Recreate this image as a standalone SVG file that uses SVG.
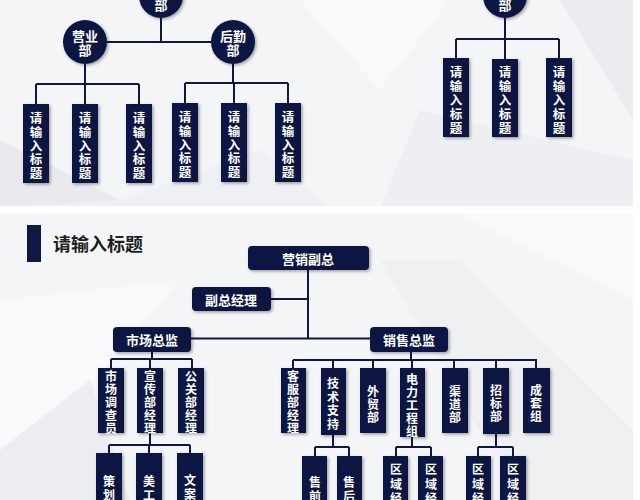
<svg xmlns="http://www.w3.org/2000/svg" width="640" height="500" viewBox="0 0 640 500">
<defs>
<filter id="sh" x="-30%" y="-30%" width="160%" height="160%">
<feDropShadow dx="1.5" dy="1.5" stdDeviation="1.5" flood-color="#000" flood-opacity="0.35"/>
</filter>
<style>
.n{fill:#111743;filter:url(#sh);}
.t{fill:#ffffff;font-family:"Noto Sans CJK SC","Noto Sans",sans-serif;font-size:13px;font-weight:bold;text-anchor:middle;dominant-baseline:central;}
.v{fill:#ffffff;font-family:"Noto Sans CJK SC","Noto Sans",sans-serif;font-size:12.5px;font-weight:bold;text-anchor:middle;dominant-baseline:central;}
.s{fill:#ffffff;font-family:"Noto Sans CJK SC","Noto Sans",sans-serif;font-size:12px;font-weight:bold;text-anchor:middle;dominant-baseline:central;}
.c{fill:none;stroke:#111743;stroke-width:2;}
.h{fill:#1e1e1e;font-family:"Noto Sans CJK SC","Noto Sans",sans-serif;font-size:18px;font-weight:bold;dominant-baseline:central;}
</style>
</defs>
<!-- background -->
<rect x="0" y="0" width="640" height="500" fill="#f4f5f7"/>
<polygon points="0,140 120,200 0,210" fill="#e6e7eb" opacity="0.8"/>
<polygon points="120,200 260,150 330,208 0,208" fill="#eceef1" opacity="0.7"/>
<polygon points="300,0 450,0 380,90" fill="#fafafb" opacity="0.9"/>
<polygon points="560,0 633,0 633,120" fill="#e9eaee" opacity="0.8"/>
<polygon points="420,110 633,160 633,208 380,208" fill="#ebecef" opacity="0.7"/>
<rect x="0" y="206" width="640" height="8" fill="#ffffff"/>
<polygon points="0,300 180,280 60,420 0,450" fill="#fafafb" opacity="0.9"/>
<polygon points="0,450 90,380 130,500 0,500" fill="#e8e9ed" opacity="0.7"/>
<polygon points="380,260 460,260 633,430 633,500 520,500" fill="#ebecef" opacity="0.6"/>
<polygon points="460,215 633,215 633,300" fill="#fafafb" opacity="0.9"/>
<rect x="633" y="0" width="7" height="500" fill="#ffffff"/>

<!-- connectors -->
<g id="connectors" class="c">
<path d="M161 18V42M107 42H211"/>
<path d="M85 64V84M36 84H139M36 84V104M85 84V104M139 84V104"/>
<path d="M233 64V83M185 83H288M185 83V103M234 83V103M288 83V103"/>
<path d="M505 18V39M456 39H559M456 39V58M505 39V59M559 39V58"/>
<path d="M308 270V338M271 299H308M191 338.5H370"/>
<path d="M152 352V359M111 359H192M111 359V368M150 359V368M192 359V368"/>
<path d="M150 433V445M109 445H190M109 445V453M149 445V453M190 445V453"/>
<path d="M411 352V360M293 360H537M293 360V368M333 360V368M373 360V368M412 360V368M454 360V368M496 360V368M536 360V368"/>
<path d="M333 435V447M315 447H349M315 447V456M349 447V456"/>
<path d="M412 437V447M396 447H431M396 447V456M431 447V456"/>
<path d="M496 434V447M478 447H513M478 447V456M513 447V456"/>
</g>

<!-- top-left -->
<g id="top-circle"><circle class="n" cx="161" cy="-4" r="22"/><text class="t" x="161" y="4">部</text></g>
<g id="yingye"><circle class="n" cx="85" cy="42" r="22"/><text class="t" x="85" y="35">营业</text><text class="t" x="85" y="49">部</text></g>
<g id="houqin"><circle class="n" cx="233" cy="42" r="22"/><text class="t" x="233" y="35">后勤</text><text class="t" x="233" y="49">部</text></g>
<g id="tl1"><rect class="n" x="23" y="104" width="26" height="79"/><text class="v" x="36" y="117"><tspan x="36">请</tspan><tspan x="36" dy="13.8">输</tspan><tspan x="36" dy="13.8">入</tspan><tspan x="36" dy="13.8">标</tspan><tspan x="36" dy="13.8">题</tspan></text></g>
<g id="tl2"><rect class="n" x="72" y="104" width="26" height="79"/><text class="v" x="85" y="117"><tspan x="85">请</tspan><tspan x="85" dy="13.8">输</tspan><tspan x="85" dy="13.8">入</tspan><tspan x="85" dy="13.8">标</tspan><tspan x="85" dy="13.8">题</tspan></text></g>
<g id="tl3"><rect class="n" x="126" y="104" width="26" height="79"/><text class="v" x="139" y="117"><tspan x="139">请</tspan><tspan x="139" dy="13.8">输</tspan><tspan x="139" dy="13.8">入</tspan><tspan x="139" dy="13.8">标</tspan><tspan x="139" dy="13.8">题</tspan></text></g>
<g id="tl4"><rect class="n" x="172" y="103" width="26" height="79"/><text class="v" x="185" y="116"><tspan x="185">请</tspan><tspan x="185" dy="13.8">输</tspan><tspan x="185" dy="13.8">入</tspan><tspan x="185" dy="13.8">标</tspan><tspan x="185" dy="13.8">题</tspan></text></g>
<g id="tl5"><rect class="n" x="221" y="103" width="26" height="79"/><text class="v" x="234" y="116"><tspan x="234">请</tspan><tspan x="234" dy="13.8">输</tspan><tspan x="234" dy="13.8">入</tspan><tspan x="234" dy="13.8">标</tspan><tspan x="234" dy="13.8">题</tspan></text></g>
<g id="tl6"><rect class="n" x="275" y="103" width="26" height="79"/><text class="v" x="288" y="116"><tspan x="288">请</tspan><tspan x="288" dy="13.8">输</tspan><tspan x="288" dy="13.8">入</tspan><tspan x="288" dy="13.8">标</tspan><tspan x="288" dy="13.8">题</tspan></text></g>

<!-- top-right -->
<g id="tr-circle"><circle class="n" cx="505" cy="-4" r="22"/><text class="t" x="505" y="4">部</text></g>
<g id="tr1"><rect class="n" x="443" y="58" width="26" height="79"/><text class="v" x="456" y="71"><tspan x="456">请</tspan><tspan x="456" dy="14">输</tspan><tspan x="456" dy="14">入</tspan><tspan x="456" dy="14">标</tspan><tspan x="456" dy="14">题</tspan></text></g>
<g id="tr2"><rect class="n" x="492" y="59" width="26" height="78"/><text class="v" x="505" y="71"><tspan x="505">请</tspan><tspan x="505" dy="14">输</tspan><tspan x="505" dy="14">入</tspan><tspan x="505" dy="14">标</tspan><tspan x="505" dy="14">题</tspan></text></g>
<g id="tr3"><rect class="n" x="546" y="58" width="26" height="79"/><text class="v" x="559" y="71"><tspan x="559">请</tspan><tspan x="559" dy="14">输</tspan><tspan x="559" dy="14">入</tspan><tspan x="559" dy="14">标</tspan><tspan x="559" dy="14">题</tspan></text></g>

<!-- title -->
<g id="title"><rect x="27" y="225" width="14" height="37" fill="#111743"/><text class="h" x="53" y="243">请输入标题</text></g>

<!-- lower org chart -->
<g id="vp"><rect class="n" x="248" y="246" width="121" height="24" rx="4"/><text class="t" x="308" y="258">营销副总</text></g>
<g id="dgm"><rect class="n" x="192" y="287" width="79" height="24" rx="4"/><text class="t" x="231" y="299">副总经理</text></g>
<g id="mkt"><rect class="n" x="113" y="327" width="78" height="25" rx="4"/><text class="t" x="152" y="339">市场总监</text></g>
<g id="sales"><rect class="n" x="370" y="327" width="78" height="25" rx="4"/><text class="t" x="409" y="339">销售总监</text></g>

<g id="m1"><rect class="n" x="98" y="368" width="26" height="65"/><text class="s" x="111" y="375"><tspan x="111">市</tspan><tspan x="111" dy="13">场</tspan><tspan x="111" dy="13">调</tspan><tspan x="111" dy="13">查</tspan><tspan x="111" dy="13">员</tspan></text></g>
<g id="m2"><rect class="n" x="137" y="368" width="26" height="65"/><text class="s" x="150" y="375"><tspan x="150">宣</tspan><tspan x="150" dy="13">传</tspan><tspan x="150" dy="13">部</tspan><tspan x="150" dy="13">经</tspan><tspan x="150" dy="13">理</tspan></text></g>
<g id="m3"><rect class="n" x="178" y="368" width="26" height="65"/><text class="s" x="191" y="375"><tspan x="191">公</tspan><tspan x="191" dy="13">关</tspan><tspan x="191" dy="13">部</tspan><tspan x="191" dy="13">经</tspan><tspan x="191" dy="13">理</tspan></text></g>
<g id="p1"><rect class="n" x="96" y="453" width="26" height="67"/><text class="s" x="109" y="480"><tspan x="109">策</tspan><tspan x="109" dy="14">划</tspan></text></g>
<g id="p2"><rect class="n" x="136" y="453" width="26" height="67"/><text class="s" x="149" y="480"><tspan x="149">美</tspan><tspan x="149" dy="14">工</tspan></text></g>
<g id="p3"><rect class="n" x="177" y="453" width="26" height="67"/><text class="s" x="190" y="479"><tspan x="190">文</tspan><tspan x="190" dy="14">案</tspan></text></g>

<g id="s1"><rect class="n" x="281" y="368" width="25" height="65"/><text class="s" x="293" y="375"><tspan x="293">客</tspan><tspan x="293" dy="13">服</tspan><tspan x="293" dy="13">部</tspan><tspan x="293" dy="13">经</tspan><tspan x="293" dy="13">理</tspan></text></g>
<g id="s2"><rect class="n" x="321" y="368" width="25" height="67"/><text class="s" x="333" y="382"><tspan x="333">技</tspan><tspan x="333" dy="13.5">术</tspan><tspan x="333" dy="13.5">支</tspan><tspan x="333" dy="13.5">持</tspan></text></g>
<g id="s3"><rect class="n" x="360" y="368" width="26" height="65"/><text class="s" x="373" y="390"><tspan x="373">外</tspan><tspan x="373" dy="13">贸</tspan><tspan x="373" dy="13">部</tspan></text></g>
<g id="s4"><rect class="n" x="400" y="368" width="25" height="69"/><text class="s" x="412" y="378"><tspan x="412">电</tspan><tspan x="412" dy="13">力</tspan><tspan x="412" dy="13">工</tspan><tspan x="412" dy="13">程</tspan><tspan x="412" dy="13">组</tspan></text></g>
<g id="s5"><rect class="n" x="442" y="368" width="26" height="65"/><text class="s" x="455" y="390"><tspan x="455">渠</tspan><tspan x="455" dy="13">道</tspan><tspan x="455" dy="13">部</tspan></text></g>
<g id="s6"><rect class="n" x="483" y="368" width="26" height="66"/><text class="s" x="496" y="389"><tspan x="496">招</tspan><tspan x="496" dy="13">标</tspan><tspan x="496" dy="13">部</tspan></text></g>
<g id="s7"><rect class="n" x="523" y="368" width="27" height="65"/><text class="s" x="536" y="389"><tspan x="536">成</tspan><tspan x="536" dy="13">套</tspan><tspan x="536" dy="13">组</tspan></text></g>

<g id="t1"><rect class="n" x="302" y="456" width="25" height="64"/><text class="s" x="315" y="481"><tspan x="315">售</tspan><tspan x="315" dy="14">前</tspan></text></g>
<g id="t2"><rect class="n" x="337" y="456" width="25" height="64"/><text class="s" x="349" y="481"><tspan x="349">售</tspan><tspan x="349" dy="14">后</tspan></text></g>
<g id="e1"><rect class="n" x="383" y="456" width="25" height="64"/><text class="s" x="396" y="468"><tspan x="396">区</tspan><tspan x="396" dy="14.5">域</tspan><tspan x="396" dy="14.5">经</tspan><tspan x="396" dy="14.5">理</tspan></text></g>
<g id="e2"><rect class="n" x="418" y="456" width="25" height="64"/><text class="s" x="431" y="468"><tspan x="431">区</tspan><tspan x="431" dy="14.5">域</tspan><tspan x="431" dy="14.5">经</tspan><tspan x="431" dy="14.5">理</tspan></text></g>
<g id="z1"><rect class="n" x="466" y="456" width="25" height="64"/><text class="s" x="478" y="468"><tspan x="478">区</tspan><tspan x="478" dy="14.5">域</tspan><tspan x="478" dy="14.5">经</tspan><tspan x="478" dy="14.5">理</tspan></text></g>
<g id="z2"><rect class="n" x="500" y="456" width="26" height="64"/><text class="s" x="513" y="468"><tspan x="513">区</tspan><tspan x="513" dy="14.5">域</tspan><tspan x="513" dy="14.5">经</tspan><tspan x="513" dy="14.5">理</tspan></text></g>
</svg>
